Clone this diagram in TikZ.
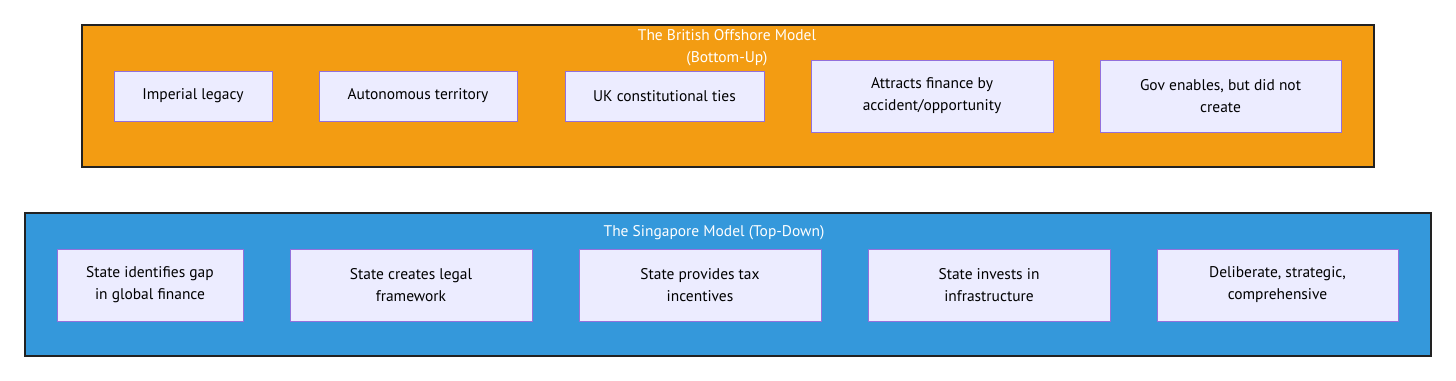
\documentclass[tikz,border=0pt]{standalone}
\usepackage{fontspec}
\setmainfont{PT Sans}
\usetikzlibrary{positioning}
\definecolor{offorange}{HTML}{F39C12}
\definecolor{sgblue}{HTML}{3498DB}
\definecolor{boxfill}{HTML}{ECECFF}
\definecolor{boxline}{HTML}{9370DB}
\definecolor{frameline}{HTML}{222222}

\begin{document}
\begin{tikzpicture}[x=0.75pt, y=-0.75pt,
    every node/.style={font=\fontsize{11.6}{16.5}\selectfont, align=center},
    cluster/.style={rectangle, draw=frameline, line width=1.1pt},
    item/.style={rectangle, draw=boxline, fill=boxfill, line width=0.6pt, text=black},
    title/.style={text=white}]
    \useasboundingbox (0,0) rectangle (1456,381);

    % Clusters
    \node[cluster, fill=offorange, minimum width=969pt, minimum height=106.5pt] (british) at (728,96) {};
    \node[cluster, fill=sgblue, minimum width=1054.5pt, minimum height=107.25pt] (singapore) at (728,284.5) {};

    \node[title] (britishtitle) at (727,48) {The British Offshore Model\\(Bottom-Up)};
    \node[title] (singaporetitle) at (714,233) {The Singapore Model (Top-Down)};

    % British nodes
    \node[item, minimum width=118.5pt, minimum height=37.5pt] (legacy) at (193,96) {Imperial legacy};
    \node[item, minimum width=148.5pt, minimum height=37.5pt] (autonomous) at (418,96) {Autonomous territory};
    \node[item, minimum width=149.25pt, minimum height=37.5pt] (ties) at (664.5,96) {UK constitutional ties};
    \node[item, minimum width=181.5pt, minimum height=54pt] (attracts) at (932,96) {Attracts finance by\\accident/opportunity};
    \node[item, minimum width=180.75pt, minimum height=54pt] (enables) at (1220.5,96) {Gov enables, but did not\\create};

    % Singapore nodes
    \node[item, minimum width=139.5pt, minimum height=54pt] (gap) at (150,285) {State identifies gap\\in global finance};
    \node[item, minimum width=181.5pt, minimum height=54pt] (legal) at (411,285) {State creates legal\\framework};
    \node[item, minimum width=181.5pt, minimum height=54pt] (tax) at (700,285) {State provides tax\\incentives};
    \node[item, minimum width=181.5pt, minimum height=54pt] (infra) at (989,285) {State invests in\\infrastructure};
    \node[item, minimum width=180.75pt, minimum height=54pt] (deliberate) at (1277.5,285) {Deliberate, strategic,\\comprehensive};
\end{tikzpicture}
\end{document}
